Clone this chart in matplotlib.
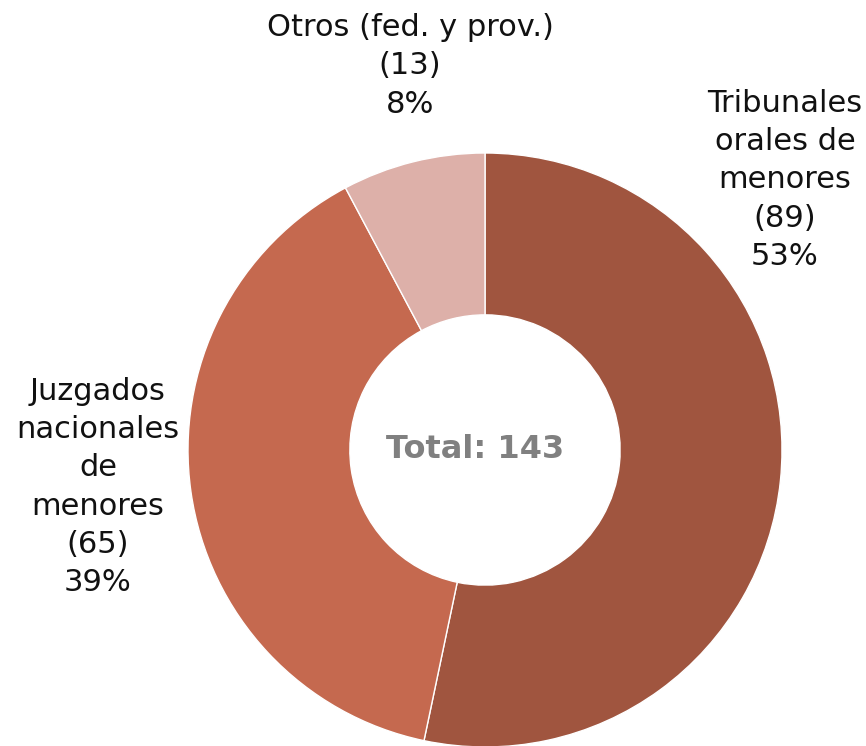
import matplotlib
matplotlib.use("Agg")
import matplotlib.pyplot as plt

labels = ["Tribunales\norales de\nmenores", "Juzgados\nnacionales\nde\nmenores", "Otros (fed. y prov.)"]
values = [89, 65, 13]
colors = ["#A0553F", "#C5694F", "#DDB0A9"]
total_label = "Total: 143"

W, H = 866, 746
fig = plt.figure(figsize=(W / 100, H / 100), dpi=100)
ax = fig.add_axes([0, 0, 1, 1])
ax.set_aspect("equal")
ax.axis("off")

cx, cy, R = 485, H - 450, 297
ax.pie(values, colors=colors, startangle=90, counterclock=False,
       center=(cx, cy), radius=R,
       wedgeprops=dict(width=R * 0.545, edgecolor="white", linewidth=1))
ax.set_xlim(0, W)
ax.set_ylim(0, H)

tot = sum(values)
font = "DejaVu Sans"
fs = 22
pos = [(785, H - 180), (98, H - 487), (410, H - 66)]
for lab, v, (x, y) in zip(labels, values, pos):
    txt = f"{lab}\n({v})\n{round(100 * v / tot)}%"
    ax.text(x, y, txt, ha="center", va="center", fontsize=fs, family=font,
            color="#111111", linespacing=1.4)

ax.text(475, H - 450, total_label, ha="center", va="center", fontsize=23,
        fontweight="bold", color="#808080", family=font)

fig.savefig("out.png", dpi=100)
